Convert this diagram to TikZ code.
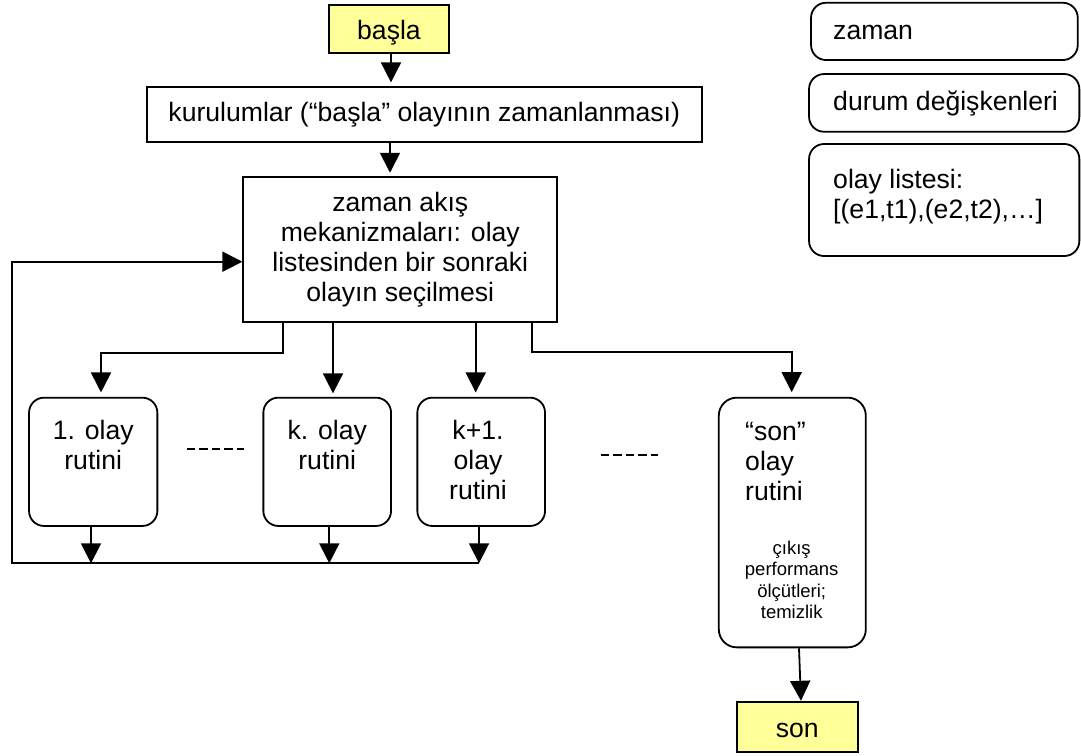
\documentclass[tikz,border=0pt]{standalone}
\usepackage{fontspec}
\setmainfont{Liberation Sans}
\usetikzlibrary{arrows.meta}

\tikzset{
  big/.style={font=\fontsize{26.6}{30}\selectfont},
  small/.style={font=\fontsize{18.5}{21.3}\selectfont},
  plainbox/.style={draw, line width=1.8pt, inner sep=0pt, big},
  yellowbox/.style={plainbox, fill=termyellow, text height=20pt, text depth=0pt},
  roundbox/.style={plainbox, rounded corners=15pt},
  txt/.style={inner sep=0pt, big},
  arr/.style={line width=1.8pt, -{Triangle[length=20pt,width=20pt]}},
  gapdash/.style={line width=1.8pt, dash pattern=on 8.5pt off 4pt}
}
\definecolor{termyellow}{HTML}{FFFF99}

\begin{document}
\begin{tikzpicture}[x=1pt,y=-1pt]
\useasboundingbox (0,0) rectangle (1081,755);

% start / setup / timing
\node[yellowbox, minimum width=120.6pt, minimum height=48.3pt] (start) at (389,29) {başla};
\node[plainbox, minimum width=555pt, minimum height=55pt] (setup) at (424.2,114.2)
  {kurulumlar (“başla” olayının zamanlanması)};
\node[plainbox, minimum width=314pt, minimum height=144.3pt, align=center] (main) at (400.3,249.5)
  {zaman akış\\mekanizmaları: olay\\listesinden bir sonraki\\olayın seçilmesi};

% event routines
\node[roundbox, minimum width=128.3pt, minimum height=128.3pt] (ev1) at (93.2,461.8) {};
\node[roundbox, minimum width=127.7pt, minimum height=128.3pt] (evk) at (327.2,461.8) {};
\node[roundbox, minimum width=127.7pt, minimum height=128.3pt] (evk1) at (481.2,461.8) {};
\node[roundbox, rounded corners=18pt, minimum width=147pt, minimum height=249.7pt] (evend) at (792.3,522.5) {};
\node[yellowbox, minimum width=121pt, minimum height=49.4pt] (stop) at (797.2,727) {son};

% routine captions (base = baseline of the last line)
\node[txt, align=center, anchor=base] (ev1t) at (93.2,469.3) {1. olay\\rutini};
\node[txt, align=center, anchor=base] (evkt) at (327.2,469.3) {k. olay\\rutini};
\node[txt, align=center, anchor=base] (evk1t) at (478,499.3) {k+1.\\olay\\rutini};
\node[txt, align=left, anchor=base west] (evendt) at (745,500.5) {“son”\\olay\\rutini};
\node[inner sep=0pt, small, align=center, anchor=base] (evendo) at (791.7,618.5)
  {çıkış\\performans\\ölçütleri;\\temizlik};

% state boxes
\node[roundbox, minimum width=266.7pt, minimum height=57.3pt] (clock) at (944.4,31.4) {};
\node[roundbox, minimum width=270.3pt, minimum height=57.7pt] (state) at (944.2,102.9) {};
\node[roundbox, minimum width=270.3pt, minimum height=112pt] (evlist) at (944.2,200) {};
\node[txt, anchor=base west] (clockt) at (833,39.3) {zaman};
\node[txt, anchor=base west] (statet) at (833,110.7) {durum değişkenleri};
\node[txt, align=left, anchor=base west] (evlistt) at (833,218.3)
  {olay listesi:\\{[}(e1,t1),(e2,t2),…{]}};

% gaps between routines
\coordinate (g1a) at (186.7,449.3);
\coordinate (g1b) at (244,449.3);
\coordinate (g2a) at (600.7,455);
\coordinate (g2b) at (657.7,455);
\draw[gapdash] (g1a) -- (g1b);
\draw[gapdash] (g2a) -- (g2b);

% main flow
\draw[arr, shorten >=3.4pt] (391,0 |- start.south) -- (391,0 |- setup.north);
\draw[arr, shorten >=3.7pt] (390,0 |- setup.south) -- (390,0 |- main.north);

\draw[arr, shorten >=4.3pt] (283.3,0 |- main.south) |- (101,353.3) -- (101,0 |- ev1.north);
\draw[arr, shorten >=3.4pt] (333,0 |- main.south) -- (333,0 |- evk.north);
\draw[arr, shorten >=4.3pt] (475.7,0 |- main.south) -- (475.7,0 |- evk1.north);
\draw[arr, shorten >=4.6pt] (531.7,0 |- main.south) |- (791.7,351.7) -- (791.7,0 |- evend.north);

% return path
\coordinate (ret) at (479,563.3);
\draw[arr] (91,0 |- ev1.south) -- (91,0 |- ret);
\draw[arr] (329.3,0 |- evk.south) -- (329.3,0 |- ret);
\draw[arr] (479,0 |- evk1.south) -- (ret);
\draw[arr] (ret) -| (11.7,261.7) -- (main.west |- 0,261.7);

% end
\draw[arr, shorten >=0.6pt] (799,0 |- evend.south) -- (801,0 |- stop.north);
\end{tikzpicture}
\end{document}
